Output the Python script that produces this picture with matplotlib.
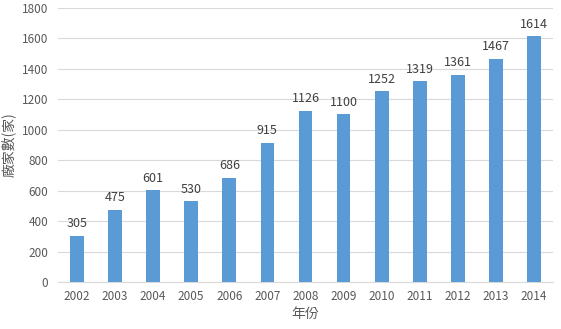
import matplotlib
matplotlib.use('Agg')
import matplotlib.pyplot as plt
import numpy as np

plt.rcParams['font.family'] = ['Noto Sans CJK TC', 'DejaVu Sans']

years = ['2002', '2003', '2004', '2005', '2006', '2007', '2008',
         '2009', '2010', '2011', '2012', '2013', '2014']
counts = [305, 475, 601, 530, 686, 915, 1126, 1100, 1252, 1319, 1361, 1467, 1614]

fig = plt.figure(figsize=(5.61, 3.29), dpi=100)
ax = fig.add_axes([0.103, 0.143, 0.883, 0.833])

x = np.arange(len(years))
bars = ax.bar(x, counts, width=0.36, color='#5B9BD5', zorder=3)
for xi, v in zip(x, counts):
    ax.text(xi, v + 35, str(v), ha='center', va='bottom', fontsize=9, color='#404040')

ax.set_xlim(-0.5, len(years) - 0.5)
ax.set_ylim(0, 1800)
ax.set_yticks(range(0, 1801, 200))
ax.set_xticks(x)
ax.set_xticklabels(years)
ax.yaxis.grid(True, color='#d9d9d9', linewidth=0.8, zorder=0)
for s in ['top', 'right', 'left']:
    ax.spines[s].set_visible(False)
ax.spines['bottom'].set_color('#d9d9d9')
ax.tick_params(axis='both', length=0, labelsize=8.5, labelcolor='#595959')
ax.tick_params(axis='y', pad=7)
ax.tick_params(axis='x', pad=6)

ax.set_xlabel('年份', fontsize=10, color='#595959', labelpad=3)
ax.set_ylabel('廠家數(家)', fontsize=10, color='#595959', labelpad=4)

fig.savefig('out.png', dpi=100)
